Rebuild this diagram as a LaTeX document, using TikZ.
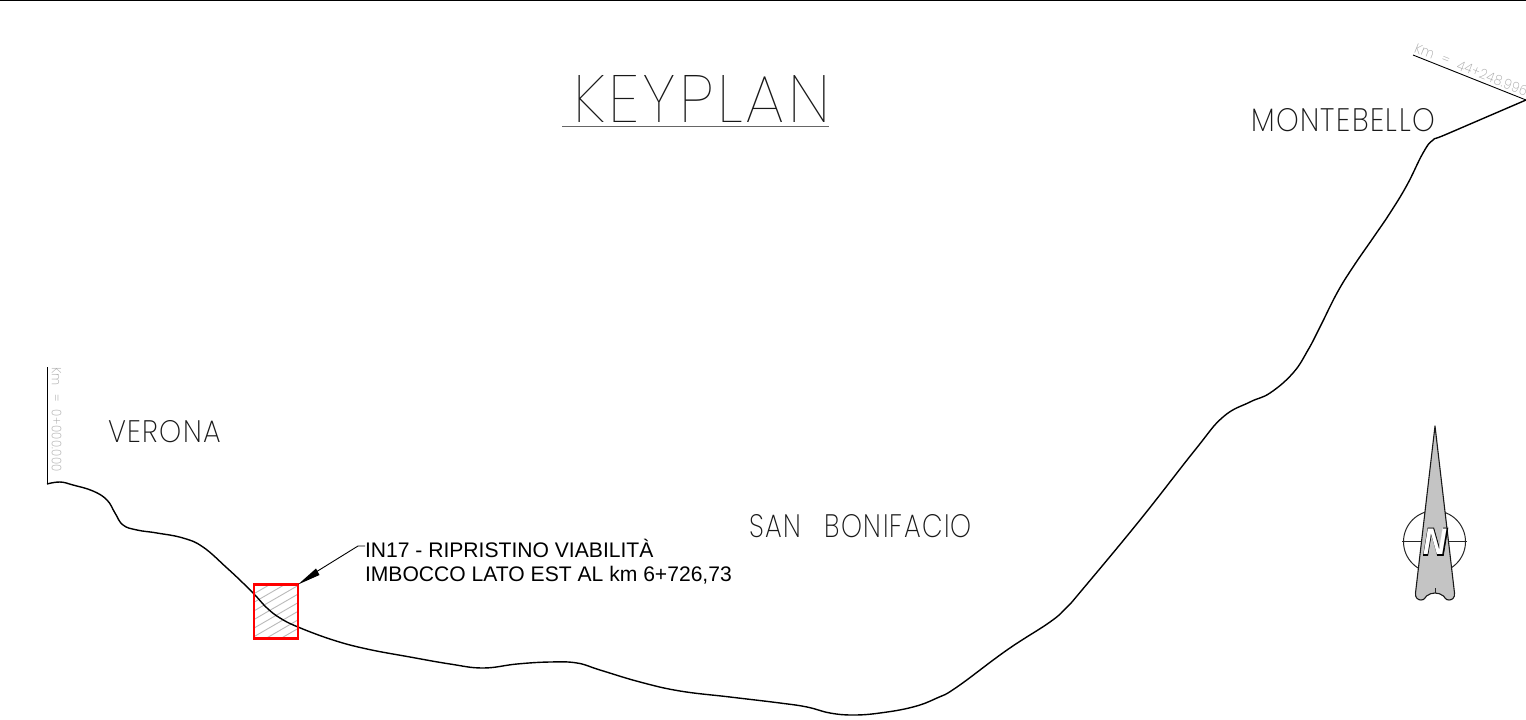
\documentclass[tikz,border=0pt]{standalone}
\usepackage{fontspec}
\usepackage{graphicx}
\setmainfont{Liberation Sans}
\newfontfamily\thinf{Poppins Thin}[LetterSpace=5]
\newfontfamily\xlight{Poppins ExtraLight}[LetterSpace=5]
\newfontfamily\kmf{Poppins ExtraLight}[LetterSpace=3]
\newfontfamily\nblack{Liberation Sans}[BoldItalicFeatures={FakeBold=2}]
\newfontfamily\nwhite{Liberation Sans}
\tikzset{
  cad/.style={inner sep=0pt,outer sep=0pt,anchor=south west,text=black!90},
  km/.style={inner sep=0pt,outer sep=0pt,text=black!35},
  alignment/.style={line width=1.4pt,black,line join=round},
  thinline/.style={line width=0.9pt,black},
  hatchline/.style={line width=0.9pt,black!27},
  note/.style={inner sep=0pt,outer sep=0pt,anchor=base west,font=\fontsize{21.1}{25}\selectfont,text=black},
}
\begin{document}
\begin{tikzpicture}[x=1pt,y=-1pt]
\useasboundingbox (0,0) rectangle (1526,720);
\fill[white] (0,0) rectangle (1526,720);
\coordinate (topL) at (0,0.5);
\coordinate (topR) at (1526,0.5);
\draw[line width=1.1pt,black] (topL) -- (topR);
% title
\node[cad] (title) at (573,122) {\resizebox{257pt}{47pt}{\thinf KEYPLAN}};
\coordinate (ulL) at (562,126.5);
\coordinate (ulR) at (829,126.5);
\draw[line width=1.3pt,black!60] (ulL) -- (ulR);
% place names
\node[cad] (mont) at (1251,132) {\resizebox{184pt}{23pt}{\xlight MONTEBELLO}};
\node[cad] (ver) at (108,443) {\resizebox{113pt}{22pt}{\xlight VERONA}};
\node[cad] (sanb) at (749,538) {\resizebox{223pt}{23pt}{\xlight SAN\hspace{0.9em}BONIFACIO}};
% hatched area
\begin{scope}
  \clip (254,584.5) rectangle (298,638.5);
  \foreach \i in {0,...,11} {
    \draw[hatchline] (250,{596+8.6*\i}) -- (302,{596+8.6*\i-30});
  }
\end{scope}
% km marks
\coordinate (a0) at (47,367);
\coordinate (a1) at (47,484);
\draw[thinline] (a0) -- (a1);
\node[km,rotate=-90,anchor=north west] (km0) at (61.5,367) {\resizebox{105pt}{9.5pt}{\kmf Km\hspace{0.7em}=\hspace{0.7em}0+000.000}};
\coordinate (b0) at (1413,55);
\coordinate (b1) at (1526,100);
\draw[thinline] (b0) -- (b1);
\node[km,rotate=-21.7,anchor=south west] (km1) at (1413.5,52.5) {\resizebox{120pt}{10pt}{\kmf Km\hspace{0.7em}=\hspace{0.7em}44+248.996}};
% alignment
\draw[alignment] plot[smooth,tension=0.7] coordinates {
 (47,484) (60,482) (73,485) (93,491) (107,500) (115,513) (123,525) (137,530) (157,533) (183,538)
 (203,547) (227,568) (243,583) (255,595) (267,608) (280,618) (298,627) (333,640) (367,649)
 (410,657) (450,664) (483,668) (517,664) (550,662) (577,663) (600,670) (640,682) (680,691) (730,697)
 (780,703) (807,707) (830,713) (853,715) (880,713) (913,707) (937,698) (957,687) (1007,650)
 (1050,622) (1067,607) (1082,590) (1140,520) (1195,450) (1223,417) (1250,402) (1270,393) (1293,373) (1308,350)
 (1320,327) (1337,293) (1353,267) (1373,238) (1390,213) (1407,185) (1423,153) (1433,140) (1447,134) (1526,100)};
% red box
\node[draw=red,line width=2.2pt,minimum width=44pt,minimum height=54pt,inner sep=0pt,outer sep=0pt] (box) at (276,611.5) {};
% note
\node[note] (l1) at (365,557.5) {IN17 - RIPRISTINO VIABILITÀ};
\node[note] (l2) at (365,581.5) {IMBOCCO LATO EST AL km 6+726,73};
\coordinate (knee) at (358,546);
\coordinate (ltxt) at (365,546);
\coordinate (barb) at (316,572);
\draw[thinline] (ltxt) -- (knee) -- (barb);
\fill[black] (box.north east) -- (316,568.5) -- (319.5,575) -- cycle;
% north arrow
\draw[line width=1pt,black!85] (1434.5,541.7) circle (31);
\coordinate (nL) at (1402,541.7);
\coordinate (nR) at (1467,541.7);
\draw[line width=1pt,black!85] (nL) -- (nR);
\filldraw[draw=black!90,fill=black!23,line width=1.1pt,line join=round]
  (1435,426) -- (1454.5,593)
  .. controls (1455,598) and (1452,600) .. (1449,600)
  .. controls (1445,600) and (1445,597) .. (1443.5,596)
  .. controls (1441,594) and (1438,593) .. (1435,593)
  .. controls (1432,593) and (1429,594) .. (1426.5,596)
  .. controls (1425,597) and (1425,600) .. (1421,600)
  .. controls (1418,600) and (1415,598) .. (1415.5,593) -- cycle;
\coordinate (tk0) at (1435,588);
\coordinate (tk1) at (1435,593);
\draw[line width=1pt,black!85] (tk0) -- (tk1);
\node[inner sep=0pt,outer sep=0pt,anchor=south west,text=black] (nb) at (1422.8,555.5) {\resizebox{24.5pt}{27.5pt}{\nblack\bfseries\itshape N}};
\node[inner sep=0pt,outer sep=0pt,anchor=south west,text=white] (nw) at (1423.6,554.6) {\resizebox{23pt}{25.5pt}{\nwhite\bfseries\itshape N}};
\end{tikzpicture}
\end{document}
